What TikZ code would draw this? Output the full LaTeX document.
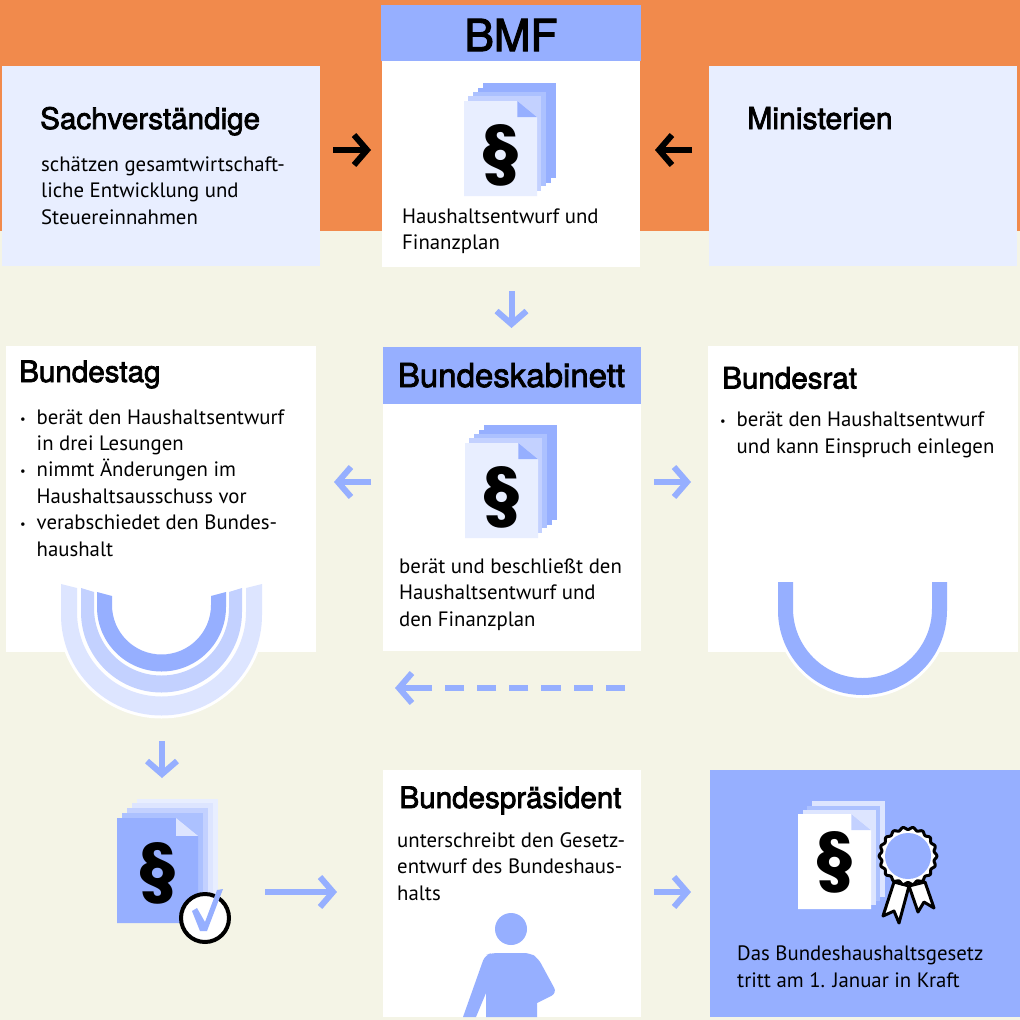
\documentclass[tikz,border=0pt]{standalone}
\usepackage{fontspec}
\setmainfont{PT Sans}
\newfontfamily\headfont{TeX Gyre Heros}
\newfontfamily\parafont{Poppins}
\newcommand{\hb}[2][0.75]{\special{pdf:code q 2 Tr #1 w}#2\special{pdf:code Q}}
\usetikzlibrary{arrows.meta}
\definecolor{bgc}{HTML}{F4F4E6}
\definecolor{orangec}{HTML}{F18A4C}
\definecolor{bluec}{HTML}{96AFFF}
\definecolor{bluel}{HTML}{E8EEFF}
\definecolor{blueb}{HTML}{C3D1FF}
\definecolor{bluea}{HTML}{DDE5FF}
\definecolor{bluem}{HTML}{ACC1FF}
\tikzset{
 x=1pt,y=-1pt,
 panel/.style={anchor=north west,inner sep=0pt,outer sep=0pt,draw=none},
 head/.style={anchor=base west,inner sep=0pt,font=\headfont\fontsize{29.6}{29.6}\selectfont},
 headc/.style={anchor=base,inner sep=0pt,font=\headfont\fontsize{29.6}{29.6}\selectfont},
 body/.style={anchor=base west,inner sep=0pt,align=left,font=\fontsize{20.8}{26.4}\selectfont},
 para/.style={anchor=center,inner sep=0pt,font=\parafont\bfseries\fontsize{66}{66}\selectfont},
 garrow/.style={line width=6pt,-{Straight Barb[length=13pt,width=30pt]}},
 blackarrow/.style={garrow,draw=black},
 bluearrow/.style={garrow,draw=bluec},
 dashline/.style={line width=6pt,draw=bluec,dash pattern=on 19.3pt off 12.9pt},
}
\newcommand{\bul}{\makebox[16.5pt][l]{\raisebox{1pt}{\scalebox{0.6}{\textbullet}}}}
\newcommand{\ind}{\hspace*{16.5pt}}
\newcommand{\pg}[5]{\fill[#5] (#1,#2) rectangle ++(#3,#4);}
\newcommand{\frontpg}[6]{%
 \fill[#5] (#1,#2) -- ++(#3*0.73,0) -- ++(#3*0.27,#4*0.17) -- ++(0,#4*0.83) -- ++(-#3,0) -- cycle;
 \fill[#6] (#1,#2) ++(#3*0.73,0) -- ++(#3*0.27,#4*0.17) -- ++(-#3*0.27,0) -- cycle;}
\begin{document}
\begin{tikzpicture}
\useasboundingbox (0,0) rectangle (1020,1020);
\fill[bgc] (0,0) rectangle (1020,1020);
\fill[orangec] (0,0) rectangle (1020,231);
% panels
\node[panel,fill=bluel,minimum width=318pt,minimum height=200pt] (sach) at (2,66) {};
\node[panel,fill=bluel,minimum width=308pt,minimum height=200pt] (mini) at (709,66) {};
\node[panel,fill=white,minimum width=258pt,minimum height=206pt] (bmfbox) at (382,61) {};
\node[panel,fill=bluec,minimum width=260pt,minimum height=56pt] (bmfhead) at (381,5) {};
\node[panel,fill=white,minimum width=310pt,minimum height=306pt] (tag) at (6,346) {};
\node[panel,fill=white,minimum width=258pt,minimum height=247pt] (kabbox) at (383,404) {};
\node[panel,fill=bluec,minimum width=258pt,minimum height=57pt] (kabhead) at (383,347) {};
\node[panel,fill=white,minimum width=310pt,minimum height=306pt] (rat) at (708,346) {};
\node[panel,fill=white,minimum width=258pt,minimum height=247pt] (praes) at (383,770) {};
\node[panel,fill=bluec,minimum width=310pt,minimum height=247pt] (gesetz) at (710,770) {};
% headings
\node[headc,font=\headfont\fontsize{44}{44}\selectfont] (bmfT) at (511,51) {\hb[1.2]{BMF}};
\node[head] (sachT) at (40,129) {\hb{Sachverständige}};
\node[head,font=\headfont\fontsize{30.2}{30.2}\selectfont] (miniT) at (747,129) {\hb{Ministerien}};
\node[head] (tagT) at (19,382) {\hb{Bundestag}};
\node[headc,font=\headfont\fontsize{33}{33}\selectfont] (kabT) at (511.5,387) {\hb{Bundeskabinett}};
\node[head] (ratT) at (722,388.5) {\hb{Bundesrat}};
\node[headc] (praesT) at (510.5,808) {\hb{Bundespräsident}};
% bodies (anchored on the last baseline)
\node[body] (sachB) at (41,224) {schätzen gesamtwirtschaft-\\liche Entwicklung und\\Steuereinnahmen};
\node[body] (bmfB) at (402,249.5) {Haushaltsentwurf und\\Finanzplan};
\node[body] (tagB) at (20,556) {\bul berät den Haushaltsentwurf\\\ind in drei Lesungen\\\bul nimmt Änderungen im\\\ind Haushaltsausschuss vor\\\bul verabschiedet den Bundes-\\\ind haushalt};
\node[body] (kabB) at (399,626) {berät und beschließt den\\Haushaltsentwurf und\\den Finanzplan};
\node[body] (ratB) at (720,453) {\bul berät den Haushaltsentwurf\\\ind und kann Einspruch einlegen};
\node[body] (praesB) at (397,900) {unterschreibt den Gesetz-\\entwurf des Bundeshaus-\\halts};
\node[body] (gesetzB) at (737,987) {Das Bundeshaushaltsgesetz\\tritt am 1. Januar in Kraft};
% doc stack BMF
\pg{483}{83}{73}{95}{bluec}
\pg{478}{88}{73}{95}{bluec}
\pg{473}{92}{73}{94}{bluem}
\pg{468}{96}{73}{95}{blueb}
\frontpg{464}{101}{73}{95}{bluel}{bluec}
\node[para] (p1) at (501,155) {§};
% doc stack Kabinett
\pg{484}{425}{73}{95}{bluec}
\pg{479}{430}{73}{95}{bluec}
\pg{474}{434}{73}{94}{bluem}
\pg{469}{438}{73}{95}{blueb}
\frontpg{465}{443}{73}{95}{bluel}{bluec}
\node[para] (p2) at (502,497) {§};
% arches Bundestag
\fill[white] (58,615) arc[start angle=180,end angle=0,radius=103.5] -- cycle;
\fill[bluea] (61,584) -- (61,615) arc[start angle=180,end angle=0,radius=100.5] -- (262,584) -- (246,588) -- (246,612) arc[start angle=0,end angle=180,radius=84.5] -- (77,588) -- cycle;
\fill[blueb] (81,588) -- (81,612) arc[start angle=180,end angle=0,radius=80.5] -- (242,588) -- (229,592) -- (229,608) arc[start angle=0,end angle=180,radius=67.5] -- (94,592) -- cycle;
\fill[bluec] (97,592) -- (97,607) arc[start angle=180,end angle=0,radius=64.5] -- (226,592) -- (211,596) -- (211,605) arc[start angle=0,end angle=180,radius=49.5] -- (112,596) -- cycle;
% arch Bundesrat
\fill[white] (775,610.5) arc[start angle=180,end angle=0,radius=87.5] -- cycle;
\fill[bluec] (778,582) -- (778,610.5) arc[start angle=180,end angle=0,radius=84.5] -- (947,582) -- (932,582) -- (932,608.5) arc[start angle=0,end angle=180,radius=69.5] -- (793,582) -- cycle;
% approved stack
\pg{137}{799}{81}{105}{bluel}
\pg{132}{803}{81}{105}{bluea}
\pg{127}{808}{81}{105}{blueb}
\pg{122}{813}{81}{105}{bluem}
\frontpg{117}{818}{81}{105}{bluec}{bluea}
\node[para] (p3) at (158,873) {§};
\node[circle,draw=black,line width=4pt,fill=white,minimum size=48pt,inner sep=0pt] (check) at (205,918) {};
\fill[bluec] (192,911) -- (197,908) -- (205,922) -- (217,890) -- (223,889) -- (207,931) -- (200,931) -- cycle;
% certificate stack
\pg{812}{801}{73}{96}{bluea}
\pg{807}{806}{73}{95}{bluem}
\pg{803}{810}{73}{95}{bluea}
\frontpg{798}{814}{73}{95}{white}{blueb}
\node[para] (p4) at (835,862) {§};
\filldraw[fill=white,draw=black,line width=3pt,line join=round]
   (894,882) -- (883,916) -- (894,911) -- (899,923) -- (909,886) -- cycle;
\filldraw[fill=white,draw=black,line width=3pt,line join=round]
   (909,886) -- (918,912) -- (924,902) -- (934,908) -- (925,882) -- cycle;
\filldraw[fill=white,draw=black,line width=3pt,line join=round] plot[samples=145,domain=0:360] ({908+(27.7+1.2*cos(18*\x))*cos(\x)},{856+(27.7+1.2*cos(18*\x))*sin(\x)}) -- cycle;
\node[circle,fill=bluec,minimum size=46pt,inner sep=0pt] (seal) at (908,856) {};
% person
\fill[bluec] (511,929) circle[radius=16];
\fill[bluec,rounded corners=6pt] (463,1017) -- (485,955) -- (492,953) -- (530,953) -- (538,958) -- (557,993) [sharp corners] -- (537,1003) -- (537,1017) -- (486,1017) -- (486,993) -- (476,1017) -- cycle;
% arrows
\coordinate (a1s) at (333,150); \coordinate (a1e) at (371,150);
\coordinate (a2s) at (692,150); \coordinate (a2e) at (655,150);
\coordinate (a3s) at (511.5,291); \coordinate (a3e) at (511.5,328);
\coordinate (a4s) at (371,482); \coordinate (a4e) at (334,482);
\coordinate (a5s) at (654,482); \coordinate (a5e) at (691,482);
\coordinate (a6s) at (625,688); \coordinate (a6m) at (432,688); \coordinate (a6e) at (395,688);
\coordinate (a7s) at (162,741); \coordinate (a7e) at (162,778);
\coordinate (a8s) at (265,892); \coordinate (a8e) at (337,892);
\coordinate (a9s) at (654,892); \coordinate (a9e) at (691,892);
\draw[blackarrow] (a1s) -- (a1e);
\draw[blackarrow] (a2s) -- (a2e);
\draw[bluearrow] (a3s) -- (a3e);
\draw[bluearrow] (a4s) -- (a4e);
\draw[bluearrow] (a5s) -- (a5e);
\draw[dashline] (a6s) -- (a6m);
\draw[bluearrow] (a6m) -- (a6e);
\draw[bluearrow] (a7s) -- (a7e);
\draw[bluearrow] (a8s) -- (a8e);
\draw[bluearrow] (a9s) -- (a9e);
\end{tikzpicture}
\end{document}
